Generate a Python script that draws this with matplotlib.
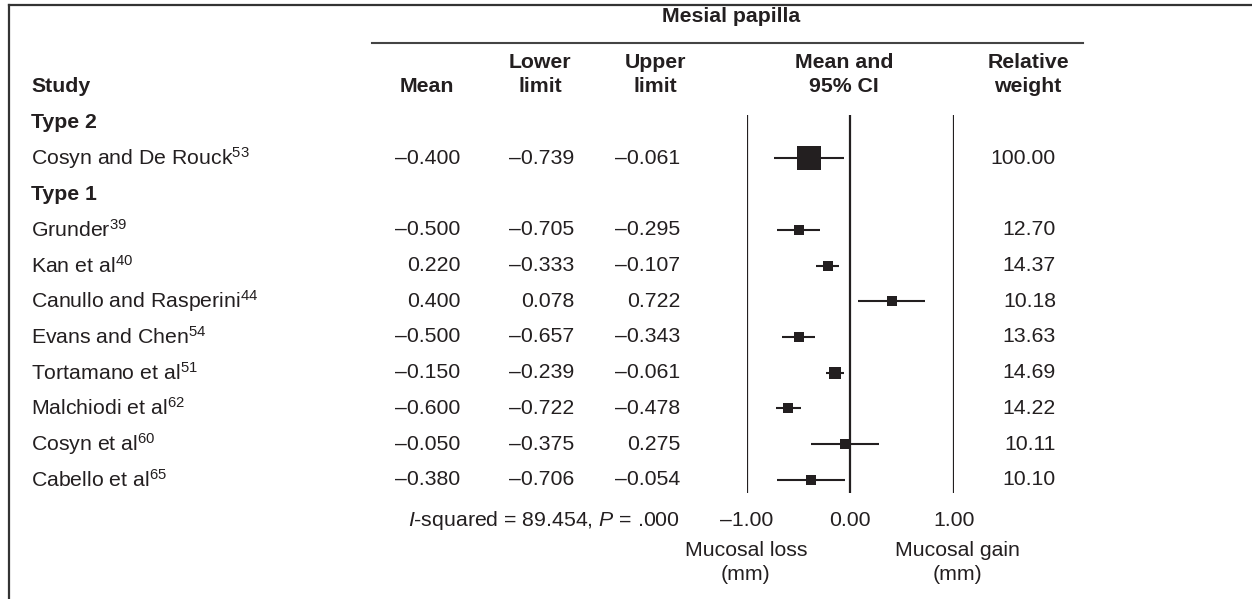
import matplotlib
matplotlib.use("Agg")
import matplotlib.pyplot as plt
import numpy as np
from matplotlib.lines import Line2D

plt.rcParams['font.family'] = ['Liberation Sans', 'DejaVu Sans']
plt.rcParams['mathtext.fontset'] = 'custom'
plt.rcParams['mathtext.rm'] = 'Liberation Sans'
plt.rcParams['mathtext.it'] = 'Liberation Sans:italic'

# ---------------- data ----------------
group2_studies = ["Cosyn and De Rouck"]
group2_refs = ["53"]
group1_studies = ["Grunder", "Kan et al", "Canullo and Rasperini", "Evans and Chen",
                  "Tortamano et al", "Malchiodi et al", "Cosyn et al", "Cabello et al"]
group1_refs = ["39", "40", "44", "54", "51", "62", "60", "65"]

mean_labels = ["\u20130.400", "\u20130.500", "0.220", "0.400", "\u20130.500",
               "\u20130.150", "\u20130.600", "\u20130.050", "\u20130.380"]
means = [-0.400, -0.500, -0.220, 0.400, -0.500, -0.150, -0.600, -0.050, -0.380]
lower = [-0.739, -0.705, -0.333, 0.078, -0.657, -0.239, -0.722, -0.375, -0.706]
upper = [-0.061, -0.295, -0.107, 0.722, -0.343, -0.061, -0.478, 0.275, -0.054]
weights = [100.00, 12.70, 14.37, 10.18, 13.63, 14.69, 14.22, 10.11, 10.10]

x_ticks = [-1.0, 0.0, 1.0]
x_ticklabels = ["\u20131.00", "0.00", "1.00"]
stats_text = r"$\mathit{I}$-squared = 89.454, $\mathit{P}$ = .000"

# ---------------- layout ----------------
W, H = 1252, 599
fig = plt.figure(figsize=(W / 100, H / 100), dpi=100)
ax = fig.add_axes([0, 0, 1, 1])
ax.set_xlim(0, W)
ax.set_ylim(H, 0)
ax.axis('off')

TXT = '#231f20'
LINE = '#231f20'
FS = 15.3

row0, rstep = 122.7, 35.7
def rowy(r):
    return row0 + r * rstep

# frame
ax.add_line(Line2D([8.5, W], [4.5, 4.5], color='#333333', lw=1.6))
ax.add_line(Line2D([8.5, 8.5], [4.5, H], color='#333333', lw=1.6))

# super header
ax.text(731, 17, "Mesial papilla", ha='center', va='center', fontsize=FS,
        fontweight='bold', color=TXT)
ax.add_line(Line2D([372, 1083], [43, 43], color='#444444', lw=1.5))

# column headers
hy1, hy2 = 63, 87
def bold(x, y, s, ha='center'):
    ax.text(x, y, s, ha=ha, va='center', fontsize=FS, fontweight='bold', color=TXT)

bold(31, hy2, "Study", ha='left')
bold(427, hy2, "Mean")
bold(540, hy1, "Lower")
bold(540, hy2, "limit")
bold(655, hy1, "Upper")
bold(655, hy2, "limit")
bold(844, hy1, "Mean and")
bold(844, hy2, "95% CI")
bold(1028, hy1, "Relative")
bold(1028, hy2, "weight")

# group headers and study rows
bold(31, rowy(0), "Type 2", ha='left')
bold(31, rowy(2), "Type 1", ha='left')

names = group2_studies + group1_studies
refs = group2_refs + group1_refs
rows = [1] + list(range(3, 3 + len(group1_studies)))

def fmt(v):
    s = f"{abs(v):.3f}"
    return ("\u2013" + s) if v < 0 else s

for i, r in enumerate(rows):
    y = rowy(r)
    ax.text(31, y, names[i] + r"$^{\mathrm{" + refs[i] + "}}$", ha='left', va='center',
            fontsize=FS, color=TXT)
    ax.text(460, y, mean_labels[i], ha='right', va='center', fontsize=FS, color=TXT)
    ax.text(574, y, fmt(lower[i]), ha='right', va='center', fontsize=FS, color=TXT)
    ax.text(680, y, fmt(upper[i]), ha='right', va='center', fontsize=FS, color=TXT)
    ax.text(1056, y, f"{weights[i]:.2f}", ha='right', va='center', fontsize=FS, color=TXT)

ax.text(680, 520, stats_text, ha='right', va='center', fontsize=FS, color=TXT)

# ---------------- forest axes ----------------
x_left, x_right = 746.7, 954.0
y_top, y_bot = 115.0, 493.0
axf = fig.add_axes([x_left / W, (H - y_bot) / H, (x_right - x_left) / W, (y_bot - y_top) / H])
axf.set_xlim(-1, 1)
axf.set_ylim((y_bot - row0) / rstep, (y_top - row0) / rstep)
axf.patch.set_alpha(0)
for s in axf.spines.values():
    s.set_visible(False)
for xv in x_ticks:
    axf.axvline(xv, color=LINE, lw=1.6)

for i, r in enumerate(rows):
    axf.plot([lower[i], upper[i]], [r, r], color=LINE, lw=1.5, solid_capstyle='butt')
    side_px = 3 + 21 * np.sqrt(weights[i] / 100.0)
    axf.plot([means[i]], [r], marker='s', linestyle='none', color=LINE,
             markersize=side_px * 0.72, markeredgewidth=0)

axf.set_yticks([])
axf.set_xticks(x_ticks)
axf.set_xticklabels(x_ticklabels, fontsize=FS, color=TXT)
axf.tick_params(axis='x', length=0, pad=13)

# axis side labels
ax.text(746, 550, "Mucosal loss", ha='center', va='center', fontsize=FS, color=TXT)
ax.text(746, 575, "(mm)", ha='center', va='center', fontsize=FS, color=TXT)
ax.text(957, 550, "Mucosal gain", ha='center', va='center', fontsize=FS, color=TXT)
ax.text(957, 575, "(mm)", ha='center', va='center', fontsize=FS, color=TXT)

fig.savefig("out.png", dpi=100)
